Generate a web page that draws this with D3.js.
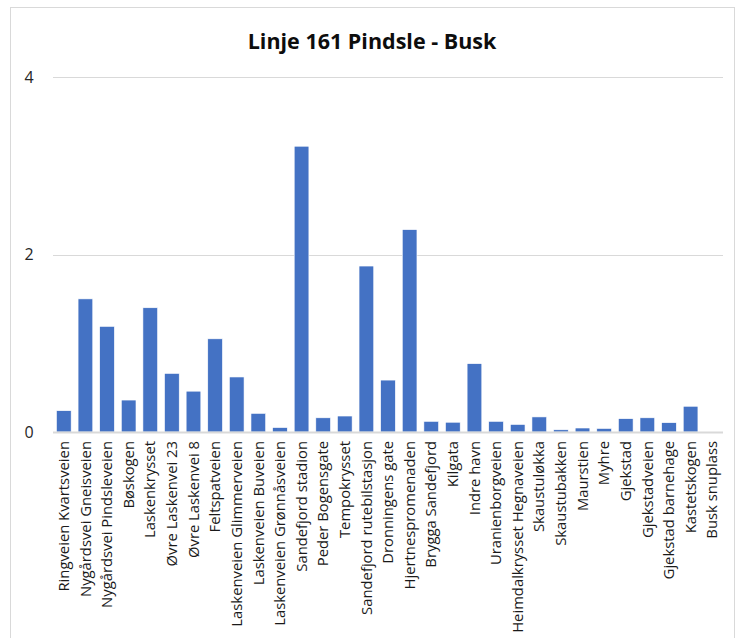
<!DOCTYPE html>
<html>
<head>
<meta charset="utf-8">
<script src="https://cdn.jsdelivr.net/npm/d3@7"></script>
<style>
  html, body { margin: 0; padding: 0; background: #fff; }
  svg { display: block; }
</style>
</head>
<body>
<svg id="chart" width="740" height="638"></svg>
<script>
// Stops along line 161, in route order
const stops = [
  "Ringveien Kvartsveien", "Nygårdsvei Gneisveien", "Nygårdsvei Pindsleveien",
  "Bøskogen", "Laskenkrysset", "Øvre Laskenvei 23", "Øvre Laskenvei 8",
  "Feltspatveien", "Laskenveien Glimmerveien", "Laskenveien Buveien",
  "Laskenveien Grønnåsveien", "Sandefjord stadion", "Peder Bogensgate",
  "Tempokrysset", "Sandefjord rutebilstasjon", "Dronningens gate",
  "Hjertnespromenaden", "Brygga Sandefjord", "Kilgata", "Indre havn",
  "Uranienborgveien", "Heimdalkrysset Hegnaveien", "Skaustuløkka",
  "Skaustubakken", "Maurstien", "Myhre", "Gjekstad", "Gjekstadveien",
  "Gjekstad barnehage", "Kastetskogen", "Busk snuplass"
];

// Value per stop
const values = [
  0.24, 1.50, 1.19, 0.36, 1.40, 0.66, 0.46, 1.05, 0.62, 0.21,
  0.05, 3.22, 0.16, 0.18, 1.87, 0.585, 2.28, 0.12, 0.11, 0.77,
  0.12, 0.085, 0.17, 0.025, 0.045, 0.04, 0.15, 0.16, 0.105, 0.29,
  0
];

const yTicks = [0, 2, 4];
const title = "Linje 161 Pindsle - Busk";

const svg = d3.select("#chart");
const font = "'Open Sans', Lato, sans-serif";

// Chart frame
svg.append("rect")
  .attr("x", 10.5).attr("y", 7.5)
  .attr("width", 724).attr("height", 660)
  .attr("fill", "#fff")
  .attr("stroke", "#d9d9d9").attr("stroke-width", 1);

const plot = { left: 53, right: 723, top: 77, bottom: 432 };

const x = d3.scaleBand()
  .domain(stops)
  .range([plot.left, plot.right])
  .paddingInner(0.32)
  .paddingOuter(0.16);

const y = d3.scaleLinear()
  .domain([0, 4])
  .range([plot.bottom, plot.top]);

// Horizontal gridlines
svg.append("g")
  .selectAll("line")
  .data(yTicks.filter(d => d !== 0))
  .join("line")
  .attr("x1", plot.left).attr("x2", plot.right)
  .attr("y1", d => Math.round(y(d)) + 0.5)
  .attr("y2", d => Math.round(y(d)) + 0.5)
  .attr("stroke", "#d9d9d9").attr("stroke-width", 1);

// Y axis labels
const yAxis = d3.axisLeft(y).tickValues(yTicks).tickSize(0).tickPadding(0).tickFormat(d3.format("d"));
const gy = svg.append("g")
  .attr("transform", `translate(${plot.left - 24},0)`)
  .call(yAxis);
gy.select(".domain").remove();
gy.selectAll("text")
  .attr("text-anchor", "middle")
  .attr("font-family", font)
  .attr("font-size", 16)
  .attr("fill", "#262626");

// Bars
svg.append("g")
  .selectAll("rect")
  .data(values)
  .join("rect")
  .attr("x", (d, i) => x(stops[i]))
  .attr("width", x.bandwidth())
  .attr("y", d => y(d))
  .attr("height", d => y(0) - y(d))
  .attr("fill", "#4472c4")
  .attr("stroke", "#ffffff")
  .attr("stroke-width", 0.6);

// Baseline
svg.append("line")
  .attr("x1", plot.left).attr("x2", plot.right)
  .attr("y1", y(0) + 0.5).attr("y2", y(0) + 0.5)
  .attr("stroke", "#d9d9d9").attr("stroke-width", 2);

// Category labels, rotated
const xAxis = d3.axisBottom(x).tickSize(0).tickPadding(0);
const gx = svg.append("g")
  .attr("transform", `translate(0,${plot.bottom})`)
  .call(xAxis);
gx.select(".domain").remove();
gx.selectAll("text")
  .attr("transform", "rotate(-90)")
  .attr("x", -9)
  .attr("y", 0)
  .attr("dy", "0.35em")
  .attr("text-anchor", "end")
  .attr("font-family", font)
  .attr("font-size", 14.8)
  .attr("fill", "#1a1a1a");

// Title
svg.append("text")
  .attr("x", 372)
  .attr("y", 49)
  .attr("text-anchor", "middle")
  .attr("font-family", font)
  .attr("font-weight", "bold")
  .attr("font-size", 21.5)
  .attr("fill", "#0d0d0d")
  .text(title);
</script>
</body>
</html>
